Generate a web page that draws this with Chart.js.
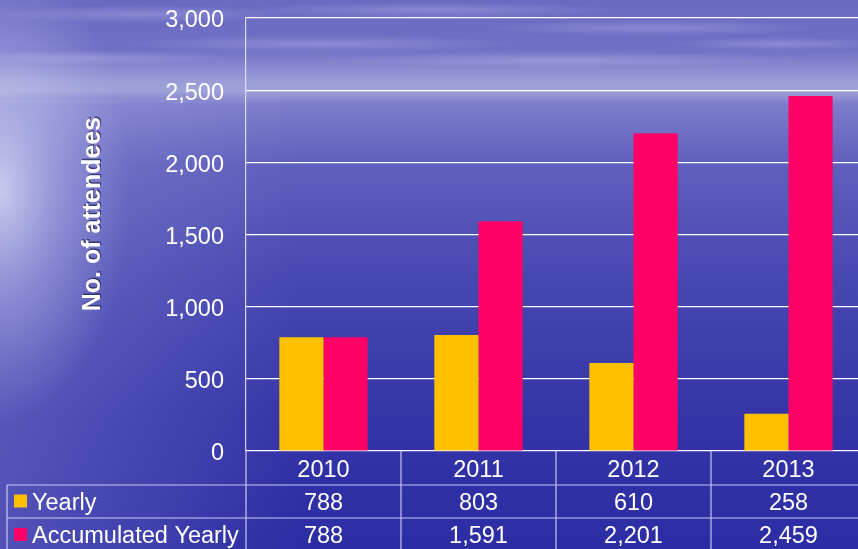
<!DOCTYPE html>
<html>
<head>
<meta charset="utf-8">
<script src="https://cdn.jsdelivr.net/npm/chart.js@4/dist/chart.umd.min.js"></script>
<style>
  html, body { margin: 0; padding: 0; overflow: hidden; background: #3a3aa8; }
  #wrap { width: 880px; height: 549px; }
</style>
</head>
<body>
<div id="wrap"><canvas id="bar_chart" width="880" height="549"></canvas></div>
<script>
var years = ["2010", "2011", "2012", "2013"];
var yearly = [788, 803, 610, 258];
var accumulated = [788, 1591, 2201, 2459];
var seriesNames = ["Yearly", "Accumulated Yearly"];
var seriesColors = ["#FFC000", "#FF0066"];
var yMax = 3000;
var yStep = 500;

var FONT = "'Liberation Sans', Arial, sans-serif";

// sea and sky behind everything
var backdrop = {
    id: 'backdrop',
    beforeDraw: function(chart) {
        var ctx = chart.ctx, w = chart.width, h = chart.height;
        ctx.save();
        var g = ctx.createLinearGradient(0, 0, 0, h);
        g.addColorStop(0, '#6a6ac2');
        g.addColorStop(0.09, '#7070c6');
        g.addColorStop(0.145, '#9a9ad6');
        g.addColorStop(0.165, '#a2a2da');
        g.addColorStop(0.19, '#7c7ccb');
        g.addColorStop(0.30, '#5f5fbd');
        g.addColorStop(0.50, '#4848b1');
        g.addColorStop(0.75, '#3535a8');
        g.addColorStop(1, '#2c2ca4');
        ctx.fillStyle = g;
        ctx.fillRect(0, 0, w, h);

        // light reflection on the left, stretched vertically
        ctx.save();
        ctx.translate(0, 190);
        ctx.scale(1, 1.8);
        var r = ctx.createRadialGradient(0, 0, 0, 0, 0, 130);
        r.addColorStop(0, 'rgba(236,236,252,0.8)');
        r.addColorStop(0.4, 'rgba(205,205,242,0.45)');
        r.addColorStop(1, 'rgba(180,180,235,0)');
        ctx.fillStyle = r;
        ctx.fillRect(0, -200, 300, 400);
        ctx.restore();

        var lx = ctx.createLinearGradient(0, 0, 300, 0);
        lx.addColorStop(0, 'rgba(190,190,238,0.25)');
        lx.addColorStop(1, 'rgba(190,190,238,0)');
        ctx.fillStyle = lx;
        ctx.fillRect(0, 100, 300, 449);

        // soft cloud streaks
        var streaks = [[140, 14, 150, 9], [430, 10, 190, 8], [650, 28, 170, 8], [320, 44, 200, 9], [90, 58, 140, 7], [560, 60, 240, 8], [780, 44, 110, 7]];
        streaks.forEach(function(s) {
            ctx.save();
            ctx.translate(s[0], s[1]);
            ctx.scale(s[2], s[3]);
            var sg = ctx.createRadialGradient(0, 0, 0, 0, 0, 1);
            sg.addColorStop(0, 'rgba(190,190,236,0.35)');
            sg.addColorStop(1, 'rgba(190,190,236,0)');
            ctx.fillStyle = sg;
            ctx.beginPath();
            ctx.arc(0, 0, 1, 0, Math.PI * 2);
            ctx.fill();
            ctx.restore();
        });
        ctx.restore();
    }
};

// y title and the data table under the plot
var dataTable = {
    id: 'dataTable',
    afterDraw: function(chart) {
        var ctx = chart.ctx, a = chart.chartArea;
        var xs = chart.scales.x;
        var colW = (a.right - a.left) / years.length;
        var rows = [a.bottom, 485, 518, 552];
        var tableLeft = 7;
        ctx.save();

        // axis title
        ctx.save();
        ctx.translate(93, 214);
        ctx.rotate(-Math.PI / 2);
        ctx.font = 'bold 25px ' + FONT;
        ctx.textAlign = 'center';
        ctx.textBaseline = 'middle';
        ctx.fillStyle = 'rgba(30,30,80,0.7)';
        ctx.fillText('No. of attendees', 1.5, 1.5);
        ctx.fillStyle = '#ffffff';
        ctx.fillText('No. of attendees', 0, 0);
        ctx.restore();

        ctx.strokeStyle = 'rgba(225,225,250,0.85)';
        ctx.lineWidth = 1.2;
        ctx.beginPath();
        ctx.moveTo(a.left, a.bottom); ctx.lineTo(a.left, 549);
        for (var i = 1; i <= years.length; i++) {
            var x = a.left + i * colW;
            ctx.moveTo(x, a.bottom); ctx.lineTo(x, 549);
        }
        ctx.moveTo(tableLeft, rows[1]); ctx.lineTo(tableLeft, 549);
        ctx.moveTo(tableLeft, rows[1]); ctx.lineTo(a.right, rows[1]);
        ctx.moveTo(tableLeft, rows[2]); ctx.lineTo(a.right, rows[2]);
        ctx.stroke();

        ctx.fillStyle = '#ffffff';
        ctx.font = '23.5px ' + FONT;
        ctx.textAlign = 'center';
        ctx.textBaseline = 'middle';
        var series = [yearly, accumulated];
        years.forEach(function(y, i) {
            var cx = xs.getPixelForValue(i);
            ctx.fillText(y, cx, (rows[0] + rows[1]) / 2 + 3);
            series.forEach(function(s, k) {
                ctx.fillText(s[i].toLocaleString('en-US'), cx, (rows[k + 1] + rows[k + 2]) / 2 + 2);
            });
        });

        ctx.textAlign = 'left';
        seriesNames.forEach(function(n, k) {
            var cy = (rows[k + 1] + rows[k + 2]) / 2;
            ctx.fillStyle = seriesColors[k];
            ctx.fillRect(14, cy - 7, 13, 13);
            ctx.fillStyle = '#ffffff';
            ctx.fillText(n, 32, cy + 2);
        });
        ctx.restore();
    }
};

var config = {
    type: 'bar',
    data: {
        labels: years,
        datasets: [{
            label: seriesNames[0],
            data: yearly,
            backgroundColor: seriesColors[0],
            borderWidth: 0
        }, {
            label: seriesNames[1],
            data: accumulated,
            backgroundColor: seriesColors[1],
            borderWidth: 0
        }]
    },
    options: {
        responsive: false,
        animation: false,
        layout: { padding: { top: 18, right: 14, bottom: 98, left: 0 } },
        datasets: { bar: { categoryPercentage: 0.57, barPercentage: 1 } },
        plugins: { legend: { display: false }, tooltip: { enabled: false } },
        scales: {
            x: { display: false },
            y: {
                min: 0,
                max: yMax,
                ticks: { stepSize: yStep, color: '#ffffff', padding: 22, labelOffset: 3, font: { family: FONT, size: 23.5 } },
                grid: { color: '#ffffff', lineWidth: 1.2, drawTicks: false },
                border: { color: 'rgba(230,230,250,0.9)', width: 1.2 },
                afterFit: function(scale) {
                    scale.width = 246;
                    scale.paddingTop = 0;
                    scale.paddingBottom = 0;
                }
            }
        }
    },
    plugins: [backdrop, dataTable]
};

new Chart(document.getElementById("bar_chart").getContext("2d"), config);
</script>
</body>
</html>
